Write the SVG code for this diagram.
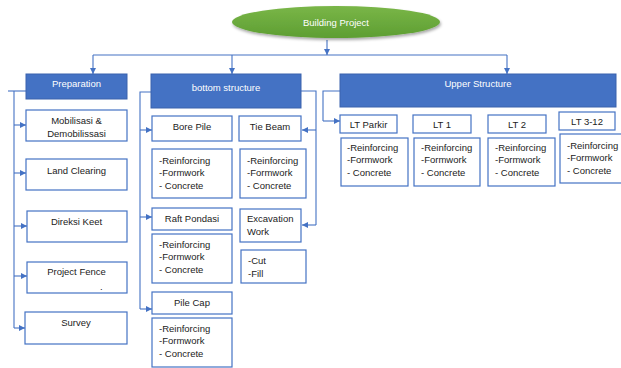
<svg xmlns="http://www.w3.org/2000/svg" width="621" height="368" viewBox="0 0 621 368">
<defs>
<marker id="arr" viewBox="0 0 6 6" refX="6" refY="3" markerWidth="6" markerHeight="6" orient="auto" markerUnits="userSpaceOnUse">
<path d="M0,0 L6,3 L0,6 z" fill="#4472C4"/>
</marker>
<linearGradient id="g" x1="0" y1="0" x2="0" y2="1">
<stop offset="0" stop-color="#7ab648"/>
<stop offset="1" stop-color="#5d9e32"/>
</linearGradient>
<filter id="sh" x="-10%" y="-30%" width="130%" height="180%">
<feDropShadow dx="1" dy="2" stdDeviation="1.5" flood-color="#000" flood-opacity="0.35"/>
</filter>
</defs>
<style>
.box{fill:#fff;stroke:#4472C4;stroke-width:1.2}
.hd{fill:#4472C4;stroke:#3a62ad;stroke-width:1}
.t{font-family:"Liberation Sans",Arial,sans-serif;font-size:9.5px;fill:#222}
.w{font-family:"Liberation Sans",Arial,sans-serif;font-size:9.5px;fill:#fff}
.c{text-anchor:middle}
.ln{fill:none;stroke:#4472C4;stroke-width:1.1}
</style>
<rect width="621" height="368" fill="#fff"/>

<g id="connectors">
<path class="ln" d="M327,40 V55" marker-end="url(#arr)"/>
<path class="ln" d="M93,55 H507"/>
<path class="ln" d="M93,55 V74" marker-end="url(#arr)"/>
<path class="ln" d="M232,55 V74" marker-end="url(#arr)"/>
<path class="ln" d="M507,55 V74" marker-end="url(#arr)"/>
<!-- preparation -->
<path class="ln" d="M26,91 H8"/>
<path class="ln" d="M14,91 V328"/>
<path class="ln" d="M14,125 H26" marker-end="url(#arr)"/>
<path class="ln" d="M14,173 H26" marker-end="url(#arr)"/>
<path class="ln" d="M14,226 H27" marker-end="url(#arr)"/>
<path class="ln" d="M14,276 H27" marker-end="url(#arr)"/>
<path class="ln" d="M14,328 H25" marker-end="url(#arr)"/>
<!-- bottom structure left -->
<path class="ln" d="M151,92 H140 V309"/>
<path class="ln" d="M140,130 H152" marker-end="url(#arr)"/>
<path class="ln" d="M140,217 H152" marker-end="url(#arr)"/>
<path class="ln" d="M140,309 H152" marker-end="url(#arr)"/>
<!-- bottom structure right -->
<path class="ln" d="M301,91 H316 V225"/>
<path class="ln" d="M316,130 H302" marker-end="url(#arr)"/>
<path class="ln" d="M316,225 H302" marker-end="url(#arr)"/>
<!-- upper -->
<path class="ln" d="M340,91 H323 V121"/>
<path class="ln" d="M323,121 H340" marker-end="url(#arr)"/>
</g>

<g id="root">
<ellipse cx="336" cy="22" rx="104" ry="16" fill="url(#g)" filter="url(#sh)"/>
<text class="w c" x="336" y="25.5">Building Project</text>
</g>

<g id="preparation">
<rect class="hd" x="26" y="74" width="101" height="25"/>
<text class="w c" x="76.5" y="87">Preparation</text>
</g>
<g id="mobilisasi">
<rect class="box" x="26" y="110" width="101" height="31"/>
<text class="t c" x="76.5" y="124">Mobilisasi &amp;</text>
<text class="t c" x="76.5" y="137">Demobilissasi</text>
</g>
<g id="land-clearing">
<rect class="box" x="26" y="159" width="101" height="31"/>
<text class="t c" x="76.5" y="174">Land Clearing</text>
</g>
<g id="direksi-keet">
<rect class="box" x="27" y="211" width="100" height="31"/>
<text class="t c" x="76.5" y="225">Direksi Keet</text>
</g>
<g id="project-fence">
<rect class="box" x="27" y="262" width="100" height="31"/>
<text class="t c" x="76.5" y="275">Project Fence</text>
<text class="t" x="100" y="290" font-size="6">.</text>
</g>
<g id="survey">
<rect class="box" x="25" y="312" width="102" height="32"/>
<text class="t c" x="76" y="326">Survey</text>
</g>

<g id="bottom-structure">
<rect class="hd" x="151" y="74" width="150" height="34"/>
<text class="w c" x="226" y="91">bottom structure</text>
</g>
<g id="bore-pile">
<rect class="box" x="152" y="116" width="80" height="25"/>
<text class="t c" x="192" y="130">Bore Pile</text>
</g>
<g id="bore-pile-items">
<rect class="box" x="152" y="149" width="80" height="49"/>
<text class="t" x="159" y="164">-Reinforcing</text>
<text class="t" x="159" y="176">-Formwork</text>
<text class="t" x="159" y="189">- Concrete</text>
</g>
<g id="tie-beam">
<rect class="box" x="239" y="116" width="62" height="25"/>
<text class="t c" x="270" y="130">Tie Beam</text>
</g>
<g id="tie-beam-items">
<rect class="box" x="240" y="149" width="66" height="49"/>
<text class="t" x="247" y="164">-Reinforcing</text>
<text class="t" x="247" y="176">-Formwork</text>
<text class="t" x="247" y="189">- Concrete</text>
</g>
<g id="raft-pondasi">
<rect class="box" x="152" y="208" width="80" height="22"/>
<text class="t c" x="192" y="222">Raft Pondasi</text>
</g>
<g id="raft-items">
<rect class="box" x="152" y="234" width="80" height="49"/>
<text class="t" x="159" y="248">-Reinforcing</text>
<text class="t" x="159" y="260">-Formwork</text>
<text class="t" x="159" y="273">- Concrete</text>
</g>
<g id="excavation">
<rect class="box" x="240" y="209" width="61" height="33"/>
<text class="t" x="247" y="222">Excavation</text>
<text class="t" x="247" y="235">Work</text>
</g>
<g id="excavation-items">
<rect class="box" x="241" y="250" width="65" height="33"/>
<text class="t" x="248" y="264">-Cut</text>
<text class="t" x="248" y="277">-Fill</text>
</g>
<g id="pile-cap">
<rect class="box" x="152" y="292" width="80" height="22"/>
<text class="t c" x="192" y="306">Pile Cap</text>
</g>
<g id="pile-cap-items">
<rect class="box" x="152" y="318" width="80" height="49"/>
<text class="t" x="159" y="332">-Reinforcing</text>
<text class="t" x="159" y="344">-Formwork</text>
<text class="t" x="159" y="357">- Concrete</text>
</g>

<g id="upper-structure">
<rect class="hd" x="340" y="74" width="276" height="33"/>
<text class="w c" x="478" y="87">Upper Structure</text>
</g>
<g id="lt-parkir">
<rect class="box" x="340" y="115" width="57" height="18"/>
<text class="t c" x="368.5" y="128">LT Parkir</text>
</g>
<g id="lt-parkir-items">
<rect class="box" x="341" y="138" width="67" height="48"/>
<text class="t" x="347" y="151">-Reinforcing</text>
<text class="t" x="347" y="163">-Formwork</text>
<text class="t" x="347" y="176">- Concrete</text>
</g>
<g id="lt-1">
<rect class="box" x="413" y="115" width="58" height="18"/>
<text class="t c" x="442" y="128">LT 1</text>
</g>
<g id="lt-1-items">
<rect class="box" x="414" y="138" width="66" height="48"/>
<text class="t" x="421" y="151">-Reinforcing</text>
<text class="t" x="421" y="163">-Formwork</text>
<text class="t" x="421" y="176">- Concrete</text>
</g>
<g id="lt-2">
<rect class="box" x="488" y="115" width="58" height="18"/>
<text class="t c" x="517" y="128">LT 2</text>
</g>
<g id="lt-2-items">
<rect class="box" x="488" y="138" width="67" height="48"/>
<text class="t" x="495" y="151">-Reinforcing</text>
<text class="t" x="495" y="163">-Formwork</text>
<text class="t" x="495" y="176">- Concrete</text>
</g>
<g id="lt-3-12">
<rect class="box" x="559" y="112" width="56" height="18"/>
<text class="t c" x="587" y="125">LT 3-12</text>
</g>
<g id="lt-3-12-items">
<rect class="box" x="560" y="134" width="62" height="49"/>
<text class="t" x="567" y="149">-Reinforcing</text>
<text class="t" x="567" y="161">-Formwork</text>
<text class="t" x="567" y="174">- Concrete</text>
</g>
</svg>
